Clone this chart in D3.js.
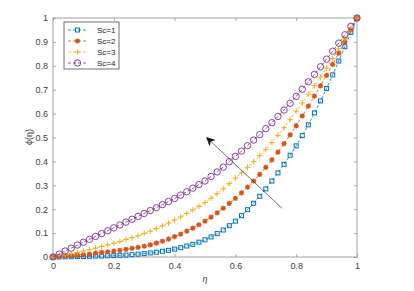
<!DOCTYPE html>
<html><head><meta charset="utf-8">
<script src="https://cdn.jsdelivr.net/npm/d3@7"></script>
<style>body{margin:0;background:#fff}svg{display:block}text{font-family:"Liberation Sans",Arial,sans-serif}</style>
</head><body><svg id="c" width="414" height="291"></svg>
<script>
const eta = d3.range(51).map(i => +(i*0.02).toFixed(2));
const sc1 = [0,0.000,0.001,0.001,0.002,0.002,0.003,0.004,0.004,0.005,0.006,0.007,0.008,0.010,0.012,0.014,0.017,0.020,0.024,0.028,0.033,0.039,0.046,0.053,0.062,0.072,0.084,0.098,0.113,0.131,0.150,0.173,0.198,0.225,0.254,0.285,0.318,0.352,0.388,0.426,0.465,0.508,0.553,0.603,0.653,0.705,0.762,0.820,0.880,0.940,1.000];
const sc2 = [0,0.002,0.004,0.006,0.008,0.010,0.013,0.016,0.019,0.022,0.025,0.028,0.032,0.036,0.040,0.045,0.051,0.058,0.066,0.075,0.085,0.096,0.108,0.121,0.135,0.150,0.167,0.185,0.204,0.224,0.245,0.268,0.292,0.318,0.346,0.375,0.406,0.439,0.474,0.511,0.550,0.590,0.631,0.673,0.716,0.760,0.806,0.853,0.901,0.950,1.000];
const sc3 = [0,0.004,0.009,0.014,0.019,0.025,0.031,0.037,0.044,0.051,0.058,0.065,0.073,0.081,0.089,0.098,0.108,0.119,0.130,0.142,0.155,0.168,0.182,0.197,0.212,0.228,0.246,0.265,0.285,0.307,0.330,0.352,0.375,0.399,0.424,0.450,0.479,0.509,0.541,0.575,0.610,0.645,0.681,0.717,0.753,0.790,0.830,0.871,0.913,0.956,1.000];
const sc4 = [0,0.012,0.025,0.037,0.050,0.062,0.074,0.086,0.098,0.110,0.122,0.134,0.146,0.158,0.170,0.182,0.194,0.206,0.219,0.232,0.245,0.259,0.273,0.288,0.303,0.318,0.337,0.356,0.376,0.399,0.421,0.443,0.466,0.489,0.512,0.537,0.562,0.588,0.615,0.643,0.672,0.702,0.733,0.764,0.796,0.828,0.861,0.895,0.930,0.965,1.000];
const seriesNames = ["Sc=1","Sc=2","Sc=3","Sc=4"];
const xTicks = [0,0.2,0.4,0.6,0.8,1];
const yTicks = [0,0.1,0.2,0.3,0.4,0.5,0.6,0.7,0.8,0.9,1];
const arrowFrom = [0.753,0.204], arrowTo = [0.506,0.499];

const series = [
  {name:seriesNames[0], vals:sc1, color:"#0072BD", marker:"square"},
  {name:seriesNames[1], vals:sc2, color:"#D95319", marker:"star"},
  {name:seriesNames[2], vals:sc3, color:"#EDB120", marker:"plus"},
  {name:seriesNames[3], vals:sc4, color:"#7E2F8E", marker:"circle"}
];

const svg = d3.select("#c");
const L=53, R=357, T=18, B=257;
const x = d3.scaleLinear().domain([0,1]).range([L,R]);
const y = d3.scaleLinear().domain([0,1]).range([B,T]);
const axisCol="#8c8c8c", txtCol="#404040";

svg.append("rect").attr("x",L).attr("y",T).attr("width",R-L).attr("height",B-T)
  .attr("fill","none").attr("stroke",axisCol).attr("stroke-width",0.8);

const gx = svg.append("g").attr("transform",`translate(0,${B})`)
  .call(d3.axisBottom(x).tickValues(xTicks).tickFormat(d3.format("~g")).tickSize(-3).tickPadding(6));
const gxt = svg.append("g").attr("transform",`translate(0,${T})`)
  .call(d3.axisTop(x).tickValues(xTicks).tickFormat("").tickSize(-3));
const gy = svg.append("g").attr("transform",`translate(${L},0)`)
  .call(d3.axisLeft(y).tickValues(yTicks).tickFormat(d3.format("~g")).tickSize(-3).tickPadding(5));
const gyr = svg.append("g").attr("transform",`translate(${R},0)`)
  .call(d3.axisRight(y).tickValues(yTicks).tickFormat("").tickSize(-3));
[gx,gxt,gy,gyr].forEach(g=>{
  g.select(".domain").remove();
  g.selectAll(".tick line").attr("stroke",axisCol).attr("stroke-width",0.7);
  g.selectAll("text").attr("fill",txtCol).style("font-size","9px");
});

svg.append("text").attr("x",205).attr("y",282).attr("text-anchor","middle")
  .attr("fill",txtCol).style("font-size","9px").style("font-style","italic").text("η");
svg.append("text").attr("transform","translate(32,137) rotate(-90)").attr("text-anchor","middle")
  .attr("fill",txtCol).style("font-size","9px").text("ϕ(η)");

function drawMarker(g, type, cx, cy, color){
  if(type==="square"){
    g.append("rect").attr("x",cx-2).attr("y",cy-2).attr("width",4).attr("height",4)
      .attr("fill","none").attr("stroke",color).attr("stroke-width",1);
  } else if(type==="circle"){
    g.append("circle").attr("cx",cx).attr("cy",cy).attr("r",3.2)
      .attr("fill","none").attr("stroke",color).attr("stroke-width",0.9);
  } else if(type==="plus"){
    const s=2.8;
    g.append("path").attr("d",`M${cx-s},${cy}H${cx+s}M${cx},${cy-s}V${cy+s}`)
      .attr("stroke",color).attr("stroke-width",1);
  } else if(type==="star"){
    const s=2.6, d=1.9;
    g.append("path").attr("d",`M${cx-s},${cy}H${cx+s}M${cx},${cy-s}V${cy+s}M${cx-d},${cy-d}L${cx+d},${cy+d}M${cx-d},${cy+d}L${cx+d},${cy-d}`)
      .attr("stroke",color).attr("stroke-width",1.3);
  }
}

const line = d3.line().x(d=>x(d[0])).y(d=>y(d[1]));
series.forEach(s=>{
  const pts = eta.map((e,i)=>[e,s.vals[i]]);
  const g = svg.append("g");
  g.append("path").attr("d",line(pts)).attr("fill","none").attr("stroke",s.color)
    .attr("stroke-width",0.8).attr("stroke-dasharray","3,2");
  pts.forEach(p=>drawMarker(g,s.marker,x(p[0]),y(p[1]),s.color));
});

svg.append("defs").append("marker").attr("id","ah").attr("viewBox","0 0 10 10")
  .attr("refX",9).attr("refY",5).attr("markerWidth",9).attr("markerHeight",9)
  .attr("markerUnits","userSpaceOnUse").attr("orient","auto")
  .append("path").attr("d","M0,0L10,5L0,10L3,5Z").attr("fill","#111");
svg.append("line").attr("x1",x(arrowFrom[0])).attr("y1",y(arrowFrom[1]))
  .attr("x2",x(arrowTo[0])).attr("y2",y(arrowTo[1]))
  .attr("stroke","#333").attr("stroke-width",0.7).attr("marker-end","url(#ah)");

const lg = svg.append("g");
lg.append("rect").attr("x",64).attr("y",22).attr("width",55).attr("height",47)
  .attr("fill","#fff").attr("stroke","#333").attr("stroke-width",0.7);
series.forEach((s,i)=>{
  const yy = 30 + i*11;
  lg.append("line").attr("x1",68).attr("x2",87).attr("y1",yy).attr("y2",yy)
    .attr("stroke",s.color).attr("stroke-width",0.8).attr("stroke-dasharray","3,2");
  drawMarker(lg,s.marker,77.5,yy,s.color);
  lg.append("text").attr("x",97).attr("y",yy+3).attr("fill","#222")
    .style("font-size","8px").text(s.name);
});
</script></body></html>
